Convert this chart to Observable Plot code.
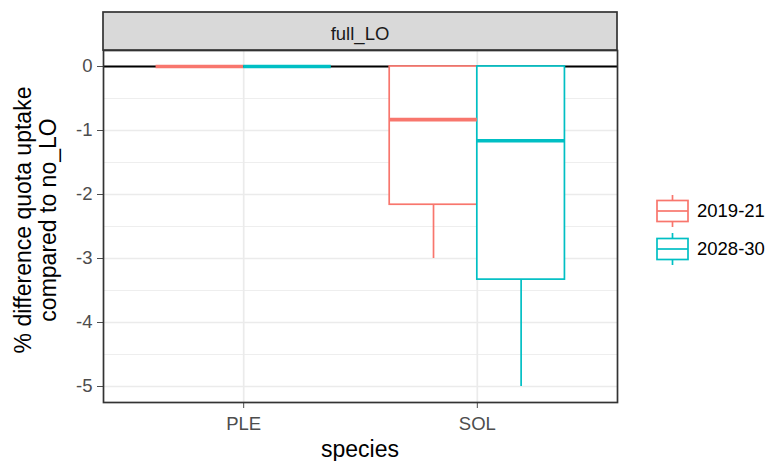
<!DOCTYPE html>
<html><head><meta charset="utf-8">
<script src="https://cdn.jsdelivr.net/npm/d3@7"></script>
<script src="https://cdn.jsdelivr.net/npm/@observablehq/plot@0.6"></script>
<style>body{margin:0;background:#fff}</style>
</head><body><div id="chart"></div>
<script>
const facetLabel = "full_LO";
const species = ["PLE","PLE","SOL","SOL"];
const period = ["2019-21","2028-30","2019-21","2028-30"];
const ymin = [0, 0, -3.0, -5.0];
const lower = [0, 0, -2.16, -3.33];
const middle = [0, 0, -0.83, -1.16];
const upper = [0, 0, 0, 0];
const ymax = [0, 0, 0, 0];
const speciesCategories = ["PLE","SOL"];
const periodCategories = ["2019-21","2028-30"];
const periodColors = ["#F8766D","#00BFC4"];
const yTicks = [0,-1,-2,-3,-4,-5];
const yMinor = [-0.5,-1.5,-2.5,-3.5,-4.5];
const yTitle = ["% difference quota uptake","compared to no_LO"];
const xTitle = "species";

(function () {
const dodge = 0.75;
const rows = species.map((s,i) => {
  const c = speciesCategories.indexOf(s) + 1;
  const k = periodCategories.indexOf(period[i]);
  const w = dodge / periodCategories.length;
  const x1 = c - dodge/2 + k*w;
  return {species:s, period:period[i], x1, x2:x1+w, xc:x1+w/2,
    ymin:ymin[i], lower:lower[i], middle:middle[i], upper:upper[i], ymax:ymax[i]};
});

const font = "'Liberation Sans', Arial, sans-serif";
const plot = Plot.plot({
  width:771, height:461, marginTop:50, marginBottom:59, marginLeft:103, marginRight:154,
  style:{fontFamily:font, fontSize:"18.5px", background:"#fff"},
  x:{type:"linear", domain:[0.4,2.6]},
  y:{domain:[-5.25,0.25]},
  color:{domain:periodCategories, range:periodColors},
  marks:[
    Plot.gridY(yMinor, {stroke:"#ebebeb", strokeOpacity:1, strokeWidth:0.85}),
    Plot.gridY(yTicks, {stroke:"#ebebeb", strokeOpacity:1, strokeWidth:1.7}),
    Plot.gridX([1,2], {stroke:"#ebebeb", strokeOpacity:1, strokeWidth:1.7}),
    Plot.ruleY([0], {stroke:"#000", strokeWidth:2}),
    Plot.ruleX(rows, {x:"xc", y1:"lower", y2:"ymin", stroke:"period", strokeWidth:1.7}),
    Plot.ruleX(rows, {x:"xc", y1:"upper", y2:"ymax", stroke:"period", strokeWidth:1.7}),
    Plot.rect(rows, {x1:"x1", x2:"x2", y1:"lower", y2:"upper", fill:"#fff", stroke:"period", strokeWidth:1.7}),
    Plot.ruleY(rows, {x1:"x1", x2:"x2", y:"middle", stroke:"period", strokeWidth:3.6}),
    Plot.axisY(yTicks, {tickSize:6, tickPadding:5, tickFormat:d=>String(d), label:null, color:"#4d4d4d"}),
    Plot.axisX([1,2], {tickSize:6, tickPadding:8, tickFormat:d=>speciesCategories[d-1], label:null, color:"#4d4d4d"}),
    Plot.frame({stroke:"#333", strokeWidth:1.7})
  ]
});

const svg = d3.select(plot);
const [px0, px1] = plot.scale("x").range;
const yr = plot.scale("y").range;
const pTop = Math.min(...yr), pBottom = Math.max(...yr);
const cx = (px0 + px1) / 2, cy = (pTop + pBottom) / 2;

// facet strip
svg.append("rect").attr("x", px0).attr("y", pTop - 38).attr("width", px1 - px0).attr("height", 38)
  .attr("fill", "#d9d9d9").attr("stroke", "#333").attr("stroke-width", 1.7);
svg.append("text").attr("x", cx).attr("y", pTop - 10).attr("text-anchor", "middle")
  .attr("fill", "#1a1a1a").style("font-size", "18.5px").style("font-family", font).text(facetLabel);

// y title
yTitle.forEach((t, i) => {
  svg.append("text").attr("transform", `translate(${31 + i*24.5},${cy - 6}) rotate(-90)`)
    .attr("text-anchor", "middle").attr("fill", "#000").style("font-size", "23px").style("font-family", font).text(t);
});
// x title
svg.append("text").attr("x", cx).attr("y", 457).attr("text-anchor", "middle")
  .attr("fill", "#000").style("font-size", "23px").style("font-family", font).text(xTitle);

// legend
periodCategories.forEach((p, i) => {
  const c = plot.scale("color").apply(p);
  const yc = 211 + i*38;
  const g = svg.append("g");
  const kx = 657, kw = 31, kc = kx + kw/2;
  g.append("line").attr("x1", kc).attr("x2", kc).attr("y1", yc - 16).attr("y2", yc + 16)
    .attr("stroke", c).attr("stroke-width", 1.7);
  g.append("rect").attr("x", kx).attr("y", yc - 10.5).attr("width", kw).attr("height", 21)
    .attr("fill", "#fff").attr("stroke", c).attr("stroke-width", 1.7);
  g.append("line").attr("x1", kx).attr("x2", kx + kw).attr("y1", yc).attr("y2", yc)
    .attr("stroke", c).attr("stroke-width", 1.7);
  g.append("text").attr("x", 697).attr("y", yc).attr("dy", "0.35em").attr("text-anchor", "start").attr("fill", "#000")
    .style("font-size", "18.5px").style("font-family", font).text(p);
});

document.getElementById("chart").appendChild(plot);
})();
</script>
</body></html>
